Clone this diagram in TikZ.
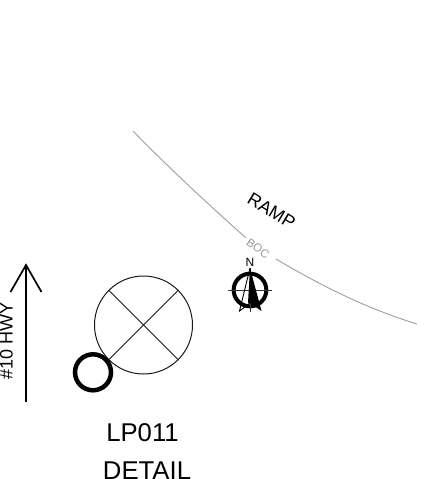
\documentclass[tikz,border=0pt]{standalone}
\usepackage{fontspec}
\setmainfont{Liberation Sans}
\tikzset{
 x=1pt,y=-1pt,
 thinline/.style={line width=1pt,black!90},
 boc/.style={line width=0.9pt,black!38},
 lbl/.style={inner sep=0pt,font=\fontsize{25.7}{26}\selectfont,text=black},
}
\begin{document}
\begin{tikzpicture}
\useasboundingbox (0,0) rectangle (430,479);
% road
\coordinate (r0) at (133,131);
\coordinate (r1) at (246,238);
\coordinate (r2) at (276,259);
\coordinate (r3) at (417,324);
\draw[boc] (r0) .. controls (168,167) and (208,204) .. (r1);
\draw[boc] (r2) .. controls (320,285) and (365,308) .. (r3);
\node[inner sep=0pt,rotate=-36,text=black!40,font=\fontsize{11.5}{11.5}\selectfont] (bdc) at (258,248.5) {BOC};
\node[inner sep=0pt,rotate=-31,font=\fontsize{18}{18}\selectfont] (ramp) at (271.5,210.5) {RAMP};
% north arrow
\node[circle,draw,line width=4pt,minimum size=32.7pt,inner sep=0pt] (nc) at (250,290) {};
\coordinate (ntip) at (250,268);
\coordinate (nbot) at (250,312);
\coordinate (nl) at (239.5,311);
\coordinate (nr) at (261.5,311);
\coordinate (nm) at (250,303);
\draw[line width=0.8pt,black!80] (228,290) -- (272,290);
\draw[line width=0.8pt,black!80] (ntip) -- (nbot);
\draw[line width=0.9pt] (ntip) -- (nl) -- (nm);
\fill (ntip) -- (nr) -- (nm) -- (248,303) -- cycle;
\node[inner sep=0pt,font=\fontsize{12}{12}\selectfont] (nlabel) at (250,262) {N};
% luminaire
\node[circle,draw,thinline,minimum size=98pt,inner sep=0pt] (lamp) at (143.5,325) {};
\draw[thinline] (lamp.135) -- (lamp.-45);
\draw[thinline] (lamp.45) -- (lamp.-135);
\node[circle,draw,line width=4.5pt,minimum size=36pt,inner sep=0pt] (pole) at (93,372.3) {};
% highway arrow
\coordinate (a0) at (26,402);
\coordinate (a1) at (26,265);
\draw[line width=1.7pt] (a0) -- (a1);
\draw[line width=1.7pt] (10.5,292) -- (a1) -- (41.5,292);
\node[inner sep=0pt,rotate=90,font=\fontsize{18}{18}\selectfont] (hwy) at (6.5,341) {\#10 HWY};
\node[lbl] (lp) at (142.5,432.5) {LP011};
\node[lbl] (det) at (147,470.5) {DETAIL};
\end{tikzpicture}
\end{document}
